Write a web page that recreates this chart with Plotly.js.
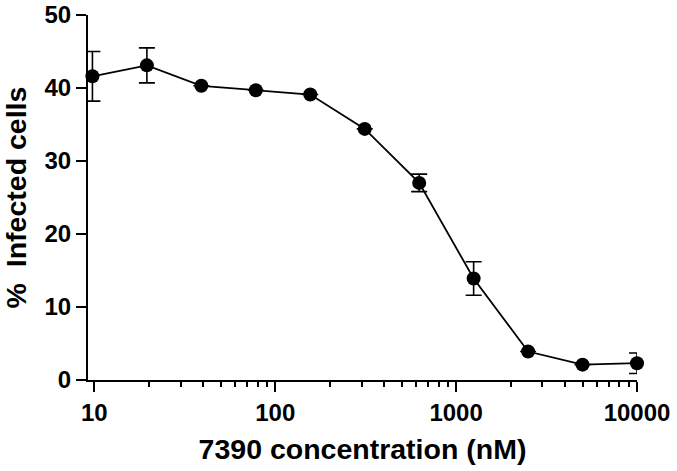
<!DOCTYPE html>
<html>
<head>
<meta charset="utf-8">
<script src="https://cdn.plot.ly/plotly-3.0.1.min.js"></script>
<style>
  html, body { margin: 0; padding: 0; background: #fff; }
  #chart { width: 677px; height: 471px; }
</style>
</head>
<body>
<div id="chart"></div>
<script>
// Data
const concentrationNM = [9.765625, 19.53125, 39.0625, 78.125, 156.25, 312.5, 625, 1250, 2500, 5000, 10000];
const infectedPct     = [41.6, 43.1, 40.3, 39.7, 39.1, 34.4, 27.0, 13.9, 3.9, 2.1, 2.3];
const errorPct        = [3.4, 2.4, null, null, null, null, 1.2, 2.3, null, null, 1.4];
const xTickVals = [10, 100, 1000, 10000];
const xTickText = ['10', '100', '1000', '10000'];
const yTickVals = [0, 10, 20, 30, 40, 50];

const FONT = 'Liberation Sans, Arial, Helvetica, sans-serif';

const trace = {
  x: concentrationNM,
  y: infectedPct,
  type: 'scatter',
  mode: 'lines+markers',
  line: { color: '#000', width: 1.8 },
  marker: { color: '#000', size: 14, symbol: 'circle' },
  error_y: { type: 'data', array: errorPct, visible: true, color: '#000', thickness: 1.6, width: 8 },
  cliponaxis: false,
  hoverinfo: 'x+y'
};

const layout = {
  width: 677,
  height: 471,
  margin: { l: 88, r: 40, t: 15, b: 91 },
  paper_bgcolor: '#fff',
  plot_bgcolor: '#fff',
  showlegend: false,
  font: { family: FONT, color: '#000', size: 24, weight: 'bold' },
  xaxis: {
    type: 'log',
    range: [Math.log10(9.23), 4],
    tickvals: xTickVals,
    ticktext: xTickText,
    ticks: 'outside',
    ticklen: 10,
    tickwidth: 2,
    tickcolor: '#000',
    showline: true,
    linecolor: '#000',
    linewidth: 2,
    showgrid: false,
    zeroline: false,
    tickfont: { family: FONT, size: 24, color: '#000', weight: 'bold' },
    minor: { ticks: 'outside', ticklen: 5, tickwidth: 2, tickcolor: '#000', dtick: 'D1', showgrid: false },
    title: { text: '7390 concentration (nM)', font: { family: FONT, size: 28.5, color: '#000', weight: 'bold' }, standoff: 14 }
  },
  yaxis: {
    range: [0, 50],
    tickvals: yTickVals,
    ticks: 'outside',
    ticklen: 10,
    tickwidth: 2,
    tickcolor: '#000',
    showline: true,
    linecolor: '#000',
    linewidth: 2,
    showgrid: false,
    zeroline: false,
    tickfont: { family: FONT, size: 24, color: '#000', weight: 'bold' },
    title: { text: '%  Infected cells', font: { family: FONT, size: 28.5, color: '#000', weight: 'bold' }, standoff: 14 }
  }
};

Plotly.newPlot('chart', [trace], layout, { displayModeBar: false, staticPlot: true });
</script>
</body>
</html>
